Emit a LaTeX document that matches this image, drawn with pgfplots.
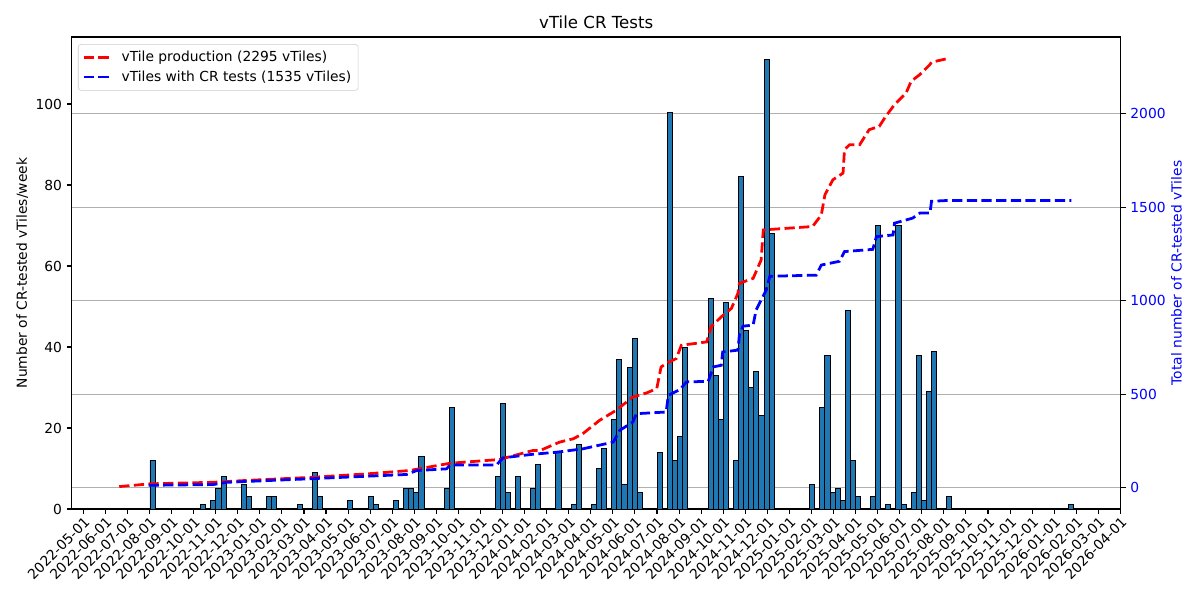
\documentclass[border=0pt]{standalone}
\usepackage{fontspec}
\setmainfont{DejaVu Sans}
\usepackage{pgfplots}
\usepackage{pgfplotstable}
\pgfplotsset{compat=1.18}
\definecolor{barblue}{HTML}{1F77B4}
\definecolor{gridgray}{HTML}{B0B0B0}
\definecolor{legendgray}{HTML}{CCCCCC}

% weekly CR-tested vTiles, k = week index after 2022-08-01 (day 92)
\pgfplotstableread{
k v
0 12
10 1
12 2
13 5
14 8
18 6
19 3
23 3
24 3
29 1
32 9
33 3
39 2
43 3
44 1
48 2
50 5
51 5
52 4
53 13
58 5
59 25
68 8
69 26
70 4
72 8
75 5
76 11
80 14
83 1
84 16
87 1
88 10
89 15
91 22
92 37
93 6
94 35
95 42
96 4
100 14
102 98
103 12
104 18
105 40
110 52
111 33
112 22
113 51
115 12
116 82
117 44
118 30
119 34
120 23
121 111
122 68
130 6
132 25
133 38
134 4
135 5
136 2
137 49
138 12
139 3
142 3
143 70
145 1
147 70
148 1
150 4
151 38
152 2
153 29
154 39
157 3
181 1
}\weekly

% cumulative production, x in days after 2022-05-01
\pgfplotstableread{
day total
49.6 5
92 20
179 28
225 38
317 55
391 73
450 91
506 130
574 150
620 198
630 198
657 243
676 261
689 288
712 359
735 413
758 484
777 506
791 529
797 645
804 663
818 690
825 761
860 779
866 860
880 913
894 958
903 1039
905 1092
924 1119
935 1217
938 1378
1006 1396
1018 1458
1023 1566
1034 1646
1048 1682
1050 1807
1057 1834
1071 1834
1084 1914
1098 1932
1107 1986
1119 2048
1126 2075
1135 2111
1142 2173
1154 2209
1168 2263
1170 2275
1193 2295
}\production

% cumulative vTiles with CR tests
\pgfplotstableread{
day total
90 12
179 16
198 28
313 47
446 70
460 91
501 100
506 121
570 121
579 159
620 178
653 189
689 207
731 243
740 306
758 350
763 395
804 404
807 493
823 524
832 565
862 568
869 645
880 654
882 725
903 735
905 815
910 863
924 869
928 949
935 1003
942 1056
947 1130
1011 1136
1018 1190
1043 1210
1050 1262
1089 1274
1094 1342
1117 1351
1119 1414
1144 1441
1154 1468
1168 1468
1170 1531
1190 1535
1363 1535
}\crtested

\pgfplotsset{
  base/.style={
    scale only axis, width=10.49in, height=4.72in,
    at={(0,0)}, anchor=south west,
    xmin=-16, xmax=1431,
    /pgf/number format/assume math mode=true,
    /pgf/number format/1000 sep={},
    axis line style={line width=0.8pt},
    tick align=outside, major tick length=3.5pt,
    every tick/.style={black, line width=0.8pt},
    tick label style={font=\fontsize{10}{12}\selectfont},
    label style={font=\fontsize{10}{12}\selectfont},
  },
  rightscale/.style={ymin=-114.75, ymax=2409.75, ytick={0,500,...,2000}},
}

\begin{document}
\begin{tikzpicture}
% grid of the right axis, under the bars
\begin{axis}[base, rightscale,
  xtick=\empty, yticklabels={}, major tick length=0pt,
  axis line style={draw=none},
  ymajorgrids, grid style={gridgray, line width=0.8pt}]
  \addplot[draw=none] coordinates {(0,0)};
\end{axis}

% weekly bars, left axis
\begin{axis}[base,
  ymin=0, ymax=116.55, ytick={0,20,...,100},
  xtick={0,30.4375,...,1431},
  xticklabels={2022-05-01,2022-06-01,2022-07-01,2022-08-01,2022-09-01,2022-10-01,2022-11-01,2022-12-01,
    2023-01-01,2023-02-01,2023-03-01,2023-04-01,2023-05-01,2023-06-01,2023-07-01,2023-08-01,2023-09-01,2023-10-01,2023-11-01,2023-12-01,
    2024-01-01,2024-02-01,2024-03-01,2024-04-01,2024-05-01,2024-06-01,2024-07-01,2024-08-01,2024-09-01,2024-10-01,2024-11-01,2024-12-01,
    2025-01-01,2025-02-01,2025-03-01,2025-04-01,2025-05-01,2025-06-01,2025-07-01,2025-08-01,2025-09-01,2025-10-01,2025-11-01,2025-12-01,
    2026-01-01,2026-02-01,2026-03-01,2026-04-01},
  xtick pos=left, ytick pos=left,
  xticklabel style={rotate=45, anchor=north east, inner sep=1pt},
  ylabel={Number of CR-tested vTiles/week},
  ylabel shift=-1.5pt,
  title={vTile CR Tests},
  title style={font=\fontsize{12}{14}\selectfont, yshift=-3.5pt},
  ybar, bar width=7]
  \addplot[fill=barblue, draw=black, line width=0.7pt]
    table[x expr=95.5+7*\thisrow{k}, y=v] {\weekly};
\end{axis}

% cumulative lines, right axis
\begin{axis}[base, rightscale,
  axis x line=none, axis y line*=right,
  yticklabel style={text=blue},
  ylabel={Total number of CR-tested vTiles},
  ylabel style={text=blue},
  ylabel shift=-3pt,
  legend cell align=left,
  legend image code/.code={\draw[#1] (0.7pt,0pt) -- (19.5pt,0pt); \path (25pt,0pt);},
  legend style={at={(0.006,0.985)}, anchor=north west,
    draw=legendgray, rounded corners=2pt, fill=white, fill opacity=0.8, text opacity=1,
    font=\fontsize{10}{12}\selectfont, row sep=1pt, inner sep=3pt}]
  \addplot[red, line width=2pt, dash pattern=on 7.4pt off 3.2pt]
    table[x=day, y=total] {\production};
  \addlegendentry{vTile production (2295 vTiles)}
  \addplot[blue, line width=2pt, dash pattern=on 7.4pt off 3.2pt]
    table[x=day, y=total] {\crtested};
  \addlegendentry{vTiles with CR tests (1535 vTiles)}
\end{axis}
\pgfresetboundingbox
\path[use as bounding box] (-0.717in,-0.91in) rectangle (11.283in,5.09in);
\end{tikzpicture}
\end{document}
